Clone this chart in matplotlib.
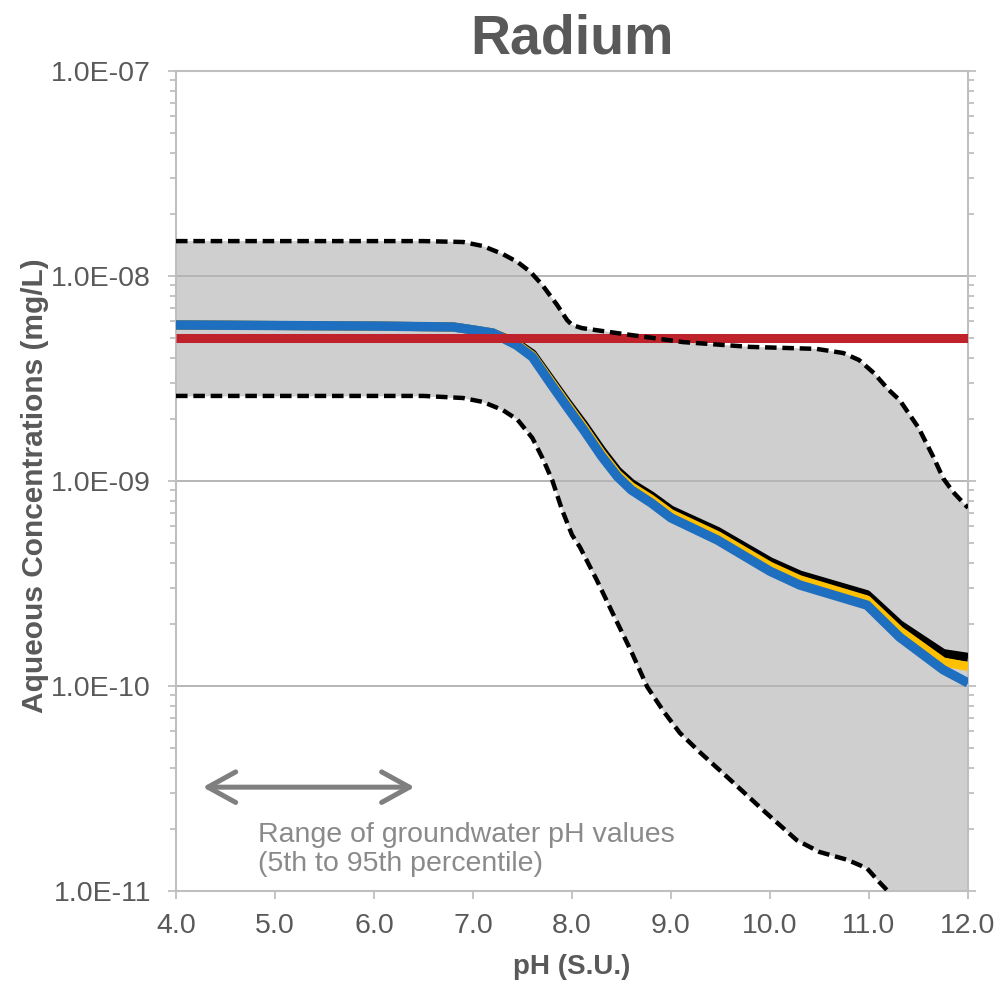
import matplotlib
matplotlib.use("Agg")
import matplotlib.pyplot as plt
from matplotlib.patches import FancyArrowPatch
from matplotlib.ticker import FixedLocator, LogLocator, NullFormatter

plt.rcParams['font.family'] = ['Liberation Sans', 'DejaVu Sans']

# %%
# values (pH vs aqueous concentration, mg/L)
ph_upper = [4.0, 6.5, 6.9, 7.1, 7.3, 7.45, 7.58, 7.7, 7.85, 7.95, 8.0, 8.1,
            8.45, 9.12, 9.80, 10.47, 10.74, 10.9, 11.05, 11.2, 11.31, 11.5,
            11.65, 11.75, 11.85, 12.0]
conc_upper = [1.48e-8, 1.48e-8, 1.465e-8, 1.40e-8, 1.28e-8, 1.17e-8, 1.047e-8,
              9.04e-9, 7.22e-9, 6.10e-9, 5.77e-9, 5.57e-9, 5.27e-9, 4.76e-9,
              4.51e-9, 4.41e-9, 4.21e-9, 3.89e-9, 3.36e-9, 2.78e-9, 2.48e-9,
              1.82e-9, 1.31e-9, 1.03e-9, 8.83e-10, 7.4e-10]

ph_lower = [4.0, 6.5, 6.9, 7.1, 7.3, 7.45, 7.6, 7.7, 7.8, 7.9, 8.0, 8.08,
            8.25, 8.41, 8.6, 8.76, 8.93, 9.09, 9.3, 9.6, 9.95, 10.27, 10.5,
            10.78, 10.98, 11.1, 11.19, 11.5, 12.0]
conc_lower = [2.60e-9, 2.60e-9, 2.54e-9, 2.43e-9, 2.22e-9, 1.99e-9, 1.62e-9,
              1.30e-9, 1.01e-9, 7.22e-10, 5.46e-10, 4.76e-10, 3.29e-10,
              2.27e-10, 1.47e-10, 9.9e-11, 7.46e-11, 5.9e-11, 4.71e-11,
              3.48e-11, 2.43e-11, 1.77e-11, 1.55e-11, 1.42e-11, 1.29e-11,
              1.11e-11, 1.0e-11, 5.6e-12, 2.5e-12]

ph_model = [4.0, 6.0, 6.8, 7.0, 7.2, 7.44, 7.6, 7.78, 7.95, 8.12, 8.3, 8.46,
            8.6, 8.80, 9.0, 9.47, 10.0, 10.3, 10.98, 11.31, 11.75, 12.0]
conc_black = [5.77e-9, 5.70e-9, 5.64e-9, 5.46e-9, 5.27e-9, 4.71e-9, 4.17e-9,
              3.15e-9, 2.42e-9, 1.88e-9, 1.41e-9, 1.12e-9, 9.73e-10, 8.47e-10,
              7.21e-10, 5.68e-10, 4.04e-10, 3.48e-10, 2.79e-10, 1.99e-10,
              1.44e-10, 1.38e-10]
conc_yellow = [5.77e-9, 5.70e-9, 5.64e-9, 5.46e-9, 5.27e-9, 4.66e-9, 4.09e-9,
               3.08e-9, 2.36e-9, 1.82e-9, 1.36e-9, 1.08e-9, 9.38e-10, 8.15e-10,
               6.92e-10, 5.42e-10, 3.84e-10, 3.30e-10, 2.63e-10, 1.86e-10,
               1.31e-10, 1.245e-10]
conc_blue = [5.77e-9, 5.70e-9, 5.64e-9, 5.46e-9, 5.27e-9, 4.60e-9, 4.03e-9,
             3.01e-9, 2.30e-9, 1.77e-9, 1.32e-9, 1.05e-9, 9.04e-10, 7.82e-10,
             6.61e-10, 5.15e-10, 3.63e-10, 3.11e-10, 2.48e-10, 1.73e-10,
             1.20e-10, 1.035e-10]

ph_limit = [4.0, 12.0]
conc_limit = [5.0e-9, 5.0e-9]

ph_range = [4.27, 6.41]
arrow_conc = 3.21e-11

x_ticks = [4, 5, 6, 7, 8, 9, 10, 11, 12]
y_ticks = [1e-11, 1e-10, 1e-9, 1e-8, 1e-7]
y_labels = ['1.0E-11', '1.0E-10', '1.0E-09', '1.0E-08', '1.0E-07']

# %%
text_gray = '#595959'
axis_gray = '#bfbfbf'

fig = plt.figure(figsize=(10.02, 9.85), dpi=100)
ax = fig.add_axes([176 / 1002, 1 - 891 / 985, 792 / 1002, 820 / 985])

# shaded envelope between the dashed bounds
ax.fill_between(ph_upper, conc_upper, 1e-13, color='#cfcfcf', lw=0, zorder=0.2)
ax.fill_between(ph_lower, conc_lower, 1e-13, color='white', lw=0, zorder=0.3)

ax.plot(ph_model, conc_black, color='black', lw=6.5, solid_capstyle='butt', zorder=3)
ax.plot(ph_model, conc_yellow, color='#ffc000', lw=6.5, solid_capstyle='butt', zorder=3.1)
ax.plot(ph_model, conc_blue, color='#1f6fc0', lw=6.8, solid_capstyle='butt', zorder=3.2)
ax.plot(ph_limit, conc_limit, color='#c0222c', lw=6.5, solid_capstyle='butt', zorder=3.3)

dash = (0, (2.6, 1.3))
ax.plot(ph_upper, conc_upper, color='black', lw=3.2, ls=dash, zorder=3.5)
ax.plot(ph_lower, conc_lower, color='black', lw=3.2, ls=dash, zorder=3.5)

ax.set_xlim(4, 12)
ax.set_yscale('log')
ax.set_ylim(1e-11, 1e-7)

ax.set_xticks(x_ticks)
ax.set_xticklabels([f"{v:.1f}" for v in x_ticks])
ax.yaxis.set_major_locator(FixedLocator(y_ticks))
ax.set_yticklabels(y_labels)
ax.yaxis.set_minor_locator(LogLocator(base=10, subs=range(2, 10), numticks=50))
ax.yaxis.set_minor_formatter(NullFormatter())

ax.set_axisbelow(True)
ax.grid(axis='y', which='major', color='#b5b5b5', lw=1.4)

for s in ax.spines.values():
    s.set_color(axis_gray)
    s.set_linewidth(1.5)

ax.tick_params(axis='both', which='both', direction='out', color=axis_gray,
               labelcolor=text_gray, labelsize=20.5, width=1.3)
ax.tick_params(axis='y', which='major', length=6, pad=12, right=True)
ax.tick_params(axis='y', which='minor', length=4, right=True)
ax.tick_params(axis='x', which='major', length=6, pad=10)

# groundwater pH range arrow and note
arrow = FancyArrowPatch((ph_range[0], arrow_conc), (ph_range[1], arrow_conc),
                        arrowstyle='<->, head_length=1.0, head_width=0.55',
                        mutation_scale=20, lw=3.6, color='#7f7f7f',
                        shrinkA=0, shrinkB=0, zorder=4)
ax.add_patch(arrow)
tr = ax.get_xaxis_transform()
ax.text(4.83, (891 - 842) / 820, 'Range of groundwater pH values', transform=tr,
        fontsize=20.5, color='#8a8a8a', va='baseline', ha='left')
ax.text(4.83, (891 - 871) / 820, '(5th to 95th percentile)', transform=tr,
        fontsize=20.5, color='#8a8a8a', va='baseline', ha='left')

# titles
fig.text(572 / 1002, 1 - 53 / 985, 'Radium', fontsize=40, fontweight='bold',
         color=text_gray, ha='center', va='baseline')
fig.text(572 / 1002, 1 - 974 / 985, 'pH (S.U.)', fontsize=20, fontweight='bold',
         color=text_gray, ha='center', va='baseline')
fig.text(43 / 1002, 1 - 486 / 985, 'Aqueous Concentrations (mg/L)', fontsize=21.5,
         fontweight='bold', color=text_gray, ha='center', va='baseline',
         rotation=90, rotation_mode='anchor')

fig.savefig('out.png', dpi=100)
